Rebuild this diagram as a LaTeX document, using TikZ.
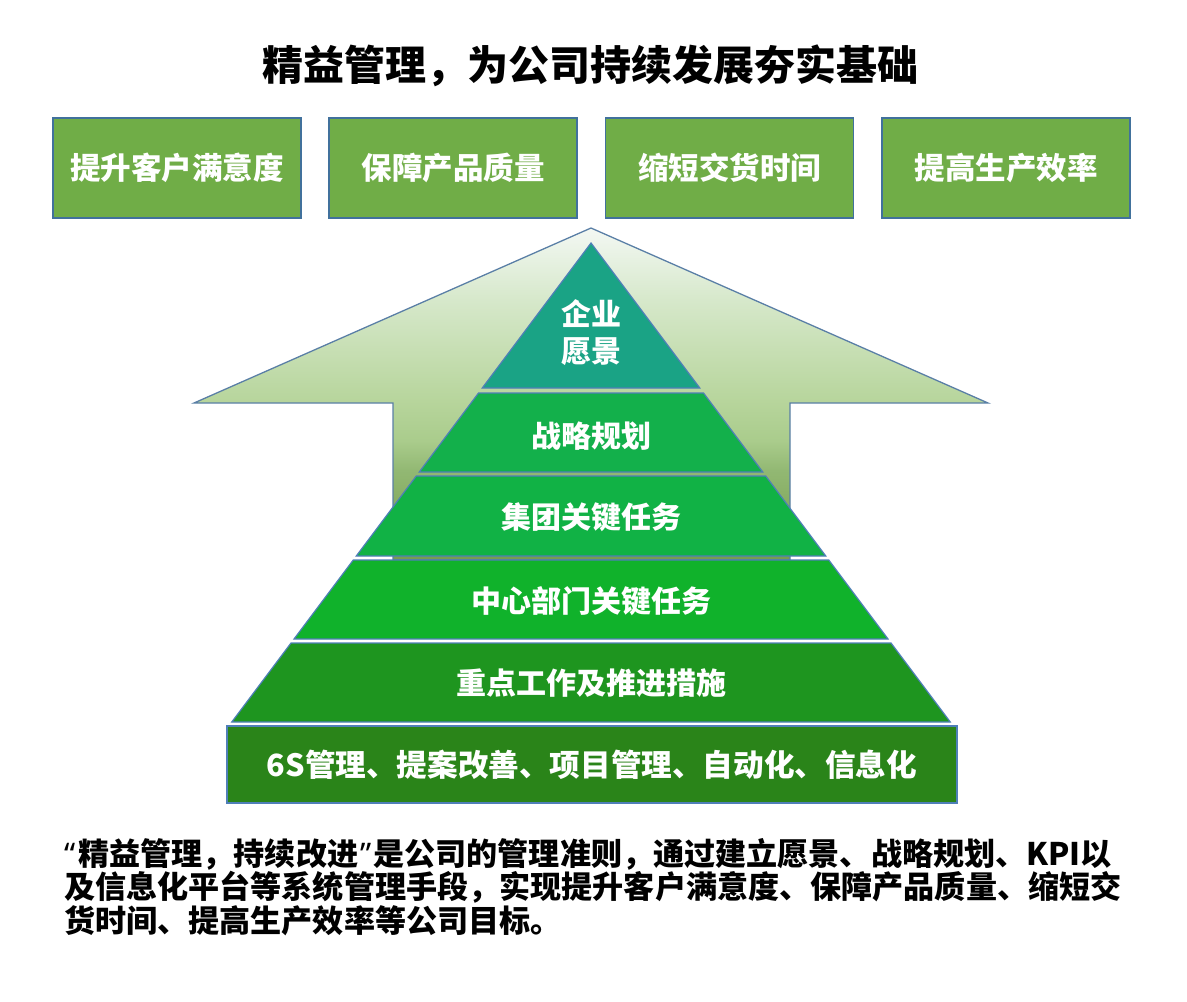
\documentclass[tikz,border=0pt]{standalone}
\usepackage{fontspec}
\setmainfont{Noto Sans CJK SC}
\newfontfamily\latinfont{Noto Sans}
\definecolor{goalgreen}{HTML}{70AD47}
\definecolor{bordblue}{HTML}{41719C}
\definecolor{arrowblue}{HTML}{5A7FA6}
\definecolor{laybord}{HTML}{4F7FB8}
\definecolor{arrA}{HTML}{769C4E}
\definecolor{arrB}{HTML}{82A85C}
\definecolor{arrC}{HTML}{92B873}
\definecolor{arrD}{HTML}{AACC8C}
\definecolor{arrE}{HTML}{B7D59C}
\definecolor{arrF}{HTML}{D6E8CA}
\definecolor{arrG}{HTML}{EEF5EC}
\definecolor{arrH}{HTML}{F3F8F3}
\definecolor{layA}{HTML}{1AA385}
\definecolor{layB}{HTML}{13B04B}
\definecolor{layC}{HTML}{11B245}
\definecolor{layD}{HTML}{10B22B}
\definecolor{layE}{HTML}{1E951F}
\definecolor{layF}{HTML}{2A8419}
\pgfdeclareverticalshading{arrowshade}{100bp}{color(0bp)=(arrA); color(25bp)=(arrA); color(31bp)=(arrB); color(38.5bp)=(arrC); color(43bp)=(arrD); color(49bp)=(arrE); color(64bp)=(arrF); color(73bp)=(arrG); color(75bp)=(arrH); color(100bp)=(arrH)}
\begin{document}
\begin{tikzpicture}[x=1pt,y=-1pt,
  goalbox/.style={draw=bordblue, line width=1.5pt, fill=goalgreen, minimum width=248pt, minimum height=100pt, inner sep=0pt, text=white, font=\bfseries\fontsize{30.5}{36}\selectfont},
  layer/.style={draw=laybord, line width=1.2pt},
  lbl/.style={text=white, inner sep=0pt, font=\bfseries\fontsize{30}{35}\selectfont, align=center},
  para/.style={anchor=base west, inner sep=0pt, font=\bfseries\fontsize{31.1}{34}\selectfont}]
\useasboundingbox (0,0) rectangle (1187,1002);
% title
\node[font=\bfseries\fontsize{41}{48}\selectfont] (title) at (590,66) {精益管理，为公司持续发展夯实基础};
% goal boxes
\node[goalbox] (g1) at (177,168) {提升客户满意度};
\node[goalbox] (g2) at (453,168) {保障产品质量};
\node[goalbox] (g3) at (729.5,168) {缩短交货时间};
\node[goalbox] (g4) at (1006,168) {提高生产效率};
% big arrow
\path[draw=arrowblue, line width=1.3pt, shading=arrowshade]
  (591,228) -- (988,403) -- (790,403) -- (790,560) -- (393,560) -- (393,403) -- (194,403) -- cycle;
% pyramid layers
\path[layer, fill=layA] (591,243) -- (699.75,388) -- (482.25,388) -- cycle;
\path[layer, fill=layB] (478.5,393) -- (703.5,393) -- (762.75,472) -- (419.25,472) -- cycle;
\path[layer, fill=layC] (416.25,476) -- (765.75,476) -- (825.75,556) -- (356.25,556) -- cycle;
\path[layer, fill=layD] (353.25,560) -- (828.75,560) -- (888,639) -- (294,639) -- cycle;
\path[layer, fill=layE] (291,643) -- (891,643) -- (950.25,722) -- (231.75,722) -- cycle;
\path[layer, fill=layF] (227,726) rectangle (957,803);
% layer labels
\node[lbl] (l1) at (591,333) {企业\\[2pt]愿景};
\node[lbl] (l2) at (591,436) {战略规划};
\node[lbl] (l3) at (591,517) {集团关键任务};
\node[lbl] (l4) at (591,601) {中心部门关键任务};
\node[lbl] (l5) at (591,683) {重点工作及推进措施};
\node[lbl, font=\bfseries\fontsize{30.6}{35}\selectfont] (l6) at (592,765) {6S管理、提案改善、项目管理、自动化、信息化};
% paragraph
\node[para] (p1) at (64,865) {{\latinfont\bfseries “}\kern3pt精益管理，持续改进\kern2pt{\latinfont\bfseries ”}\kern2pt是公司的管理准则，通过建立愿景、战略规划、KPI以};
\node[para] (p2) at (64,898) {及信息化平台等系统管理手段，实现提升客户满意度、保障产品质量、缩短交};
\node[para] (p3) at (64,932) {货时间、提高生产效率等公司目标。};
\end{tikzpicture}
\end{document}
